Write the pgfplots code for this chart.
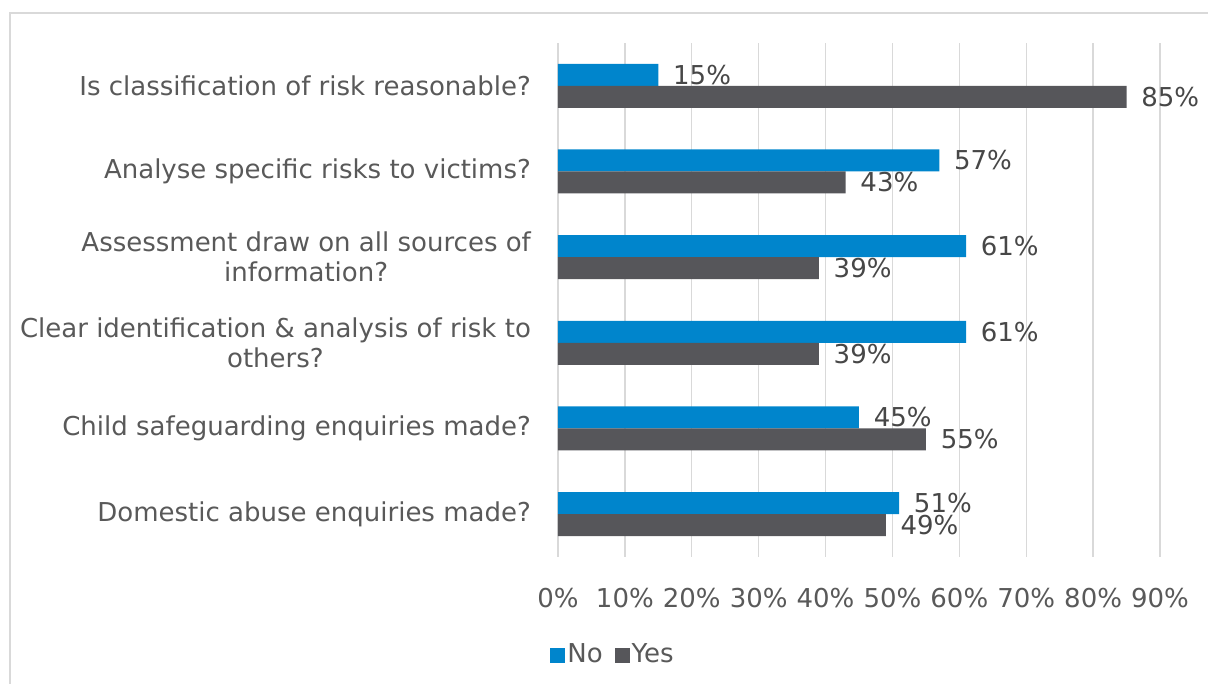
\documentclass[border=0pt]{standalone}
\usepackage{fontspec}
\setmainfont{DejaVu Sans}
\usepackage{pgfplots}
\pgfplotsset{compat=1.18}
\definecolor{noblue}{HTML}{0085CC}
\definecolor{yesgrey}{HTML}{56565A}
\definecolor{txt}{HTML}{595959}
\definecolor{gridc}{HTML}{D9D9D9}
\begin{document}
\fontsize{26pt}{30pt}\selectfont
\begin{tikzpicture}[x=1pt,y=1pt]
\useasboundingbox (0,0) rectangle (1208,684);
\draw[gridc, line width=1.5pt] (10,-10) -- (10,671) -- (1220,671);
\begin{axis}[
    at={(558pt,127pt)}, anchor=south west,
    scale only axis, width=602pt, height=514pt,
    xbar, bar width=22pt,
    xmin=0, xmax=90, ymin=-0.5, ymax=5.5,
    xtick={0,10,...,90},
    xticklabel={\pgfmathprintnumber{\tick}\%},
    /pgf/number format/assume math mode=true,
    ytick={0,...,5},
    yticklabels={{Domestic abuse enquiries made?},
                 {Child safeguarding enquiries made?},
                 {Clear identification \& analysis of risk to\\others?},
                 {Assessment draw on all sources of\\information?},
                 {Analyse specific risks to victims?},
                 {Is classification of risk reasonable?}},
    yticklabel style={align=center, anchor=east, xshift=-14pt, text=txt},
    xticklabel style={anchor=north, yshift=-22pt, text=txt},
    xmajorgrids, grid style={gridc, line width=1.3pt},
    axis line style={draw=none}, major tick style={draw=none},
    nodes near coords={\pgfmathprintnumber{\pgfplotspointmeta}\%},
    nodes near coords style={anchor=west, xshift=6pt, text=txt!80!black},
    legend columns=2,
    legend style={draw=none, at={(-0.018,-0.19)}, anchor=west, text=txt,
        /tikz/every even column/.append style={column sep=10pt}},
]
\addplot[fill=noblue, draw=none, bar shift=11pt,
    legend image code/.code={\fill[noblue] (0pt,-8pt) rectangle (15pt,7pt);}]
    coordinates {(51,0) (45,1) (61,2) (61,3) (57,4) (15,5)};
\addplot[fill=yesgrey, draw=none, bar shift=-11pt,
    legend image code/.code={\fill[yesgrey] (0pt,-8pt) rectangle (15pt,7pt);}]
    coordinates {(49,0) (55,1) (39,2) (39,3) (43,4) (85,5)};
\legend{No,Yes}
\end{axis}
\end{tikzpicture}
\end{document}
